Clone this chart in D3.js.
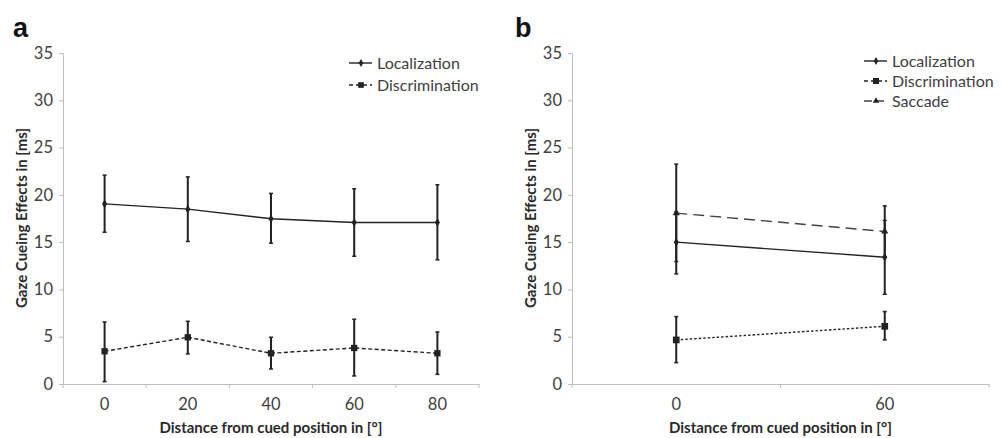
<!DOCTYPE html>
<html><head><meta charset="utf-8">
<script src="https://cdn.jsdelivr.net/npm/d3@7/dist/d3.min.js"></script>
<style>body{margin:0;background:#fff}svg{display:block}</style>
</head><body><svg id="c" width="1003" height="438"></svg>
<script>
// Panel a
const catsA = ["0","20","40","60","80"];
const locA = [19.05, 18.49, 17.47, 17.08, 17.08];
const locALo = [16.05, 15.07, 14.89, 13.51, 13.13];
const locAHi = [22.09, 21.9, 20.15, 20.64, 21.07];
const disA = [3.46, 4.94, 3.25, 3.81, 3.25];
const disALo = [0.25, 3.18, 1.59, 0.85, 1.02];
const disAHi = [6.56, 6.63, 4.94, 6.85, 5.5];
// Panel b
const catsB = ["0","60"];
const locB = [15.0, 13.41];
const locBLo = [11.64, 9.49];
const locBHi = [18.2, 17.29];
const disB = [4.66, 6.1];
const disBLo = [2.26, 4.66];
const disBHi = [7.13, 7.66];
const sacB = [18.07, 16.13];
const sacBLo = [12.95, 13.4];
const sacBHi = [23.25, 18.84];
const yTicks = [0,5,10,15,20,25,30,35];
const yTitle = "Gaze Cueing Effects in [ms]";
const xTitle = "Distance from cued position in [°]";

const svg = d3.select("#c");
const FONT = "Lato, 'Open Sans', sans-serif";
const axisCol = "#bdbdbd", txtCol = "#404040", ink = "#222";

function panel(opt){
  const g = svg.append("g");
  const x = d3.scaleBand().domain(opt.cats).range([opt.x0, opt.x1]);
  const y = d3.scaleLinear().domain([0,35]).range([384,53]);
  // y axis
  const ya = g.append("g").attr("transform",`translate(${opt.x0},0)`)
    .call(d3.axisLeft(y).tickValues(yTicks).tickSize(4).tickPadding(6));
  ya.select(".domain").attr("stroke",axisCol);
  ya.selectAll(".tick line").attr("stroke",axisCol);
  ya.selectAll(".tick text").attr("fill",txtCol).style("font-family",FONT).style("font-size","16.5px");
  // x axis
  const xa = g.append("g").attr("transform",`translate(0,384)`)
    .call(d3.axisBottom(x).tickSize(0).tickPadding(14));
  xa.select(".domain").attr("stroke",axisCol);
  xa.selectAll(".tick text").attr("fill",txtCol).style("font-family",FONT).style("font-size","16.5px");
  const bounds = opt.cats.map(c=>x(c)).concat([opt.x1]);
  g.selectAll(".xt").data(bounds).join("line")
    .attr("x1",d=>d).attr("x2",d=>d).attr("y1",384).attr("y2",388).attr("stroke",axisCol);
  // titles
  g.append("text").attr("transform",`translate(${opt.x0-36},218) rotate(-90)`)
    .attr("text-anchor","middle").style("font-family",FONT).style("font-weight","bold").style("font-size","15px")
    .attr("fill","#2a2a2a").text(yTitle);
  g.append("text").attr("x",(opt.x0+opt.x1)/2).attr("y",433).attr("text-anchor","middle")
    .style("font-family",FONT).style("font-weight","bold").style("font-size","15px").attr("fill","#2a2a2a").text(xTitle);
  g.append("text").attr("x",opt.labelX).attr("y",37).style("font-family","'Liberation Sans', Arial, sans-serif")
    .style("font-weight","bold").style("font-size","27px").attr("fill","#111").text(opt.label);

  const cx = c => x(c) + x.bandwidth()/2;
  opt.series.forEach(s=>{
    const pts = opt.cats.map((c,i)=>({c, v:s.v[i], lo:s.lo[i], hi:s.hi[i]}));
    g.append("path").datum(pts).attr("fill","none").attr("stroke",s.col).attr("stroke-width",1.4)
      .attr("stroke-dasharray",s.dash).attr("d",d3.line().x(d=>cx(d.c)).y(d=>y(d.v)));
    const eb = g.append("g");
    pts.forEach(d=>{
      eb.append("line").attr("x1",cx(d.c)).attr("x2",cx(d.c)).attr("y1",y(d.lo)).attr("y2",y(d.hi))
        .attr("stroke",ink).attr("stroke-width",2);
      [d.lo,d.hi].forEach(v=>eb.append("line").attr("x1",cx(d.c)-2).attr("x2",cx(d.c)+2)
        .attr("y1",y(v)).attr("y2",y(v)).attr("stroke",ink).attr("stroke-width",1.5));
    });
    g.selectAll(null).data(pts).join("path")
      .attr("transform",d=>`translate(${cx(d.c)},${y(d.v)})`)
      .attr("d",d3.symbol().type(s.sym).size(s.size)).attr("fill",ink);
  });
  // legend
  opt.series.forEach((s,i)=>{
    const ly = opt.leg.y + i*opt.leg.dy;
    g.append("line").attr("x1",opt.leg.x).attr("x2",opt.leg.x+23).attr("y1",ly).attr("y2",ly)
      .attr("stroke",s.col).attr("stroke-width",1.4).attr("stroke-dasharray",s.legDash);
    g.append("path").attr("transform",`translate(${opt.leg.x+12},${ly})`)
      .attr("d",d3.symbol().type(s.sym).size(s.size*0.8)).attr("fill",ink);
    g.append("text").attr("x",opt.leg.x+28).attr("y",ly).attr("dy","0.35em")
      .style("font-family",FONT).style("font-size","16px").attr("fill",txtCol).text(s.name);
  });
}

panel({cats:catsA, x0:63, x1:479, label:"a", labelX:13,
  leg:{x:349, y:63, dy:22},
  series:[
    {name:"Localization", v:locA, lo:locALo, hi:locAHi, col:"#222", dash:null, legDash:null, sym:d3.symbolDiamond, size:22},
    {name:"Discrimination", v:disA, lo:disALo, hi:disAHi, col:"#222", dash:"4,2.5", legDash:"4,3", sym:d3.symbolSquare, size:40}
  ]});
panel({cats:catsB, x0:572, x1:989, label:"b", labelX:515,
  leg:{x:864, y:61, dy:20},
  series:[
    {name:"Localization", v:locB, lo:locBLo, hi:locBHi, col:"#222", dash:null, legDash:null, sym:d3.symbolDiamond, size:22},
    {name:"Discrimination", v:disB, lo:disBLo, hi:disBHi, col:"#222", dash:"2.5,2", legDash:"4,3", sym:d3.symbolSquare, size:45},
    {name:"Saccade", v:sacB, lo:sacBLo, hi:sacBHi, col:"#444", dash:"11,6", legDash:"8,4", sym:d3.symbolTriangle, size:22}
  ]});
</script></body></html>
